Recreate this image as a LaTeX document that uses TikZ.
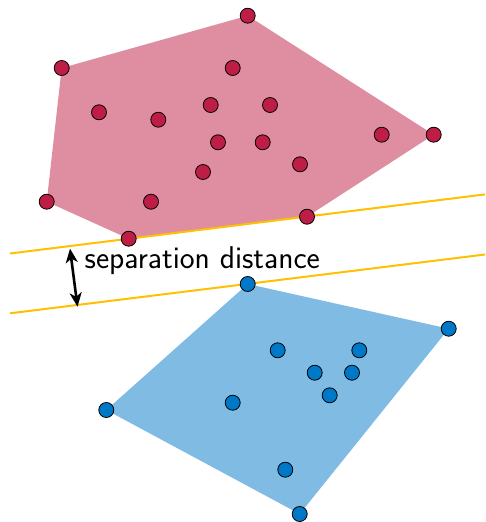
\documentclass[tikz,border=0pt]{standalone}
\usepackage{fontspec}
\usepackage{tikz}
\usetikzlibrary{arrows.meta, backgrounds}
\definecolor{ptRed}{HTML}{BE1E46}
\definecolor{ptBlue}{HTML}{0078C8}
\definecolor{sepYellow}{HTML}{FFC000}
\tikzset{
  ptR/.style={circle, draw=black, fill=ptRed, line width=0.8pt,
              minimum size=15pt, inner sep=0pt},
  ptB/.style={circle, draw=black, fill=ptBlue, line width=0.8pt,
              minimum size=15pt, inner sep=0pt},
  hullR/.style={fill=ptRed!50},
  hullB/.style={fill=ptBlue!50},
  sepLine/.style={draw=sepYellow, line width=2pt},
  arrowSep/.style={{Stealth[length=14pt,width=12pt,inset=4pt]}-{Stealth[length=14pt,width=12pt,inset=4pt]},
                   line width=2.6pt, black},
}

\begin{document}
\begin{tikzpicture}[x=1pt, y=-1pt]
    \useasboundingbox (0,0) rectangle (485,522);
    % red cluster
    \node[ptR] (r1)  at (247.7,15.7)  {};
    \node[ptR] (r2)  at (61.7,68)     {};
    \node[ptR] (r3)  at (46.7,201.7)  {};
    \node[ptR] (r4)  at (128.7,238.7) {};
    \node[ptR] (r5)  at (307,216.7)   {};
    \node[ptR] (r6)  at (433.7,134.7) {};
    \node[ptR] (r7)  at (232.7,68)    {};
    \node[ptR] (r8)  at (99,112.3)    {};
    \node[ptR] (r9)  at (158.3,119.7) {};
    \node[ptR] (r10) at (210.7,105)   {};
    \node[ptR] (r11) at (270,105)     {};
    \node[ptR] (r12) at (381.7,134.7) {};
    \node[ptR] (r13) at (218,142.3)   {};
    \node[ptR] (r14) at (262.7,142.3) {};
    \node[ptR] (r15) at (300,164.3)   {};
    \node[ptR] (r16) at (203,172)     {};
    \node[ptR] (r17) at (151,201.7)   {};
    % blue cluster
    \node[ptB] (b1)  at (247.7,284)   {};
    \node[ptB] (b2)  at (448.7,328.7) {};
    \node[ptB] (b3)  at (299.7,514)   {};
    \node[ptB] (b4)  at (106.3,410)   {};
    \node[ptB] (b5)  at (277.7,350.3) {};
    \node[ptB] (b6)  at (359.3,350.3) {};
    \node[ptB] (b7)  at (314.7,372.7) {};
    \node[ptB] (b8)  at (352,372.7)   {};
    \node[ptB] (b9)  at (329.7,395.3) {};
    \node[ptB] (b10) at (232.7,402.7) {};
    \node[ptB] (b11) at (285.3,469.7) {};
    % separating lines
    \coordinate (topL) at (10,253.5);
    \coordinate (topR) at (485,194.4);
    \coordinate (botL) at (10,313.3);
    \coordinate (botR) at (485,254.5);
    \coordinate (gapT) at (70,248.7);
    \coordinate (gapB) at (77.5,306.7);
    \begin{scope}[on background layer]
      \fill[hullR] (r1.center) -- (r2.center) -- (r3.center) -- (r4.center)
        -- (r5.center) -- (r6.center) -- cycle;
      \fill[hullB] (b1.center) -- (b2.center) -- (b3.center) -- (b4.center) -- cycle;
      \draw[sepLine] (topL) -- (topR);
      \draw[sepLine] (botL) -- (botR);
    \end{scope}
    \draw[arrowSep] (gapT) -- (gapB);
    \node[anchor=base west, font=\sffamily\fontsize{31.5}{36}\selectfont, inner sep=0pt]
      (sep) at (84.5,268.3) {separation distance};
  \end{tikzpicture}
\end{document}
